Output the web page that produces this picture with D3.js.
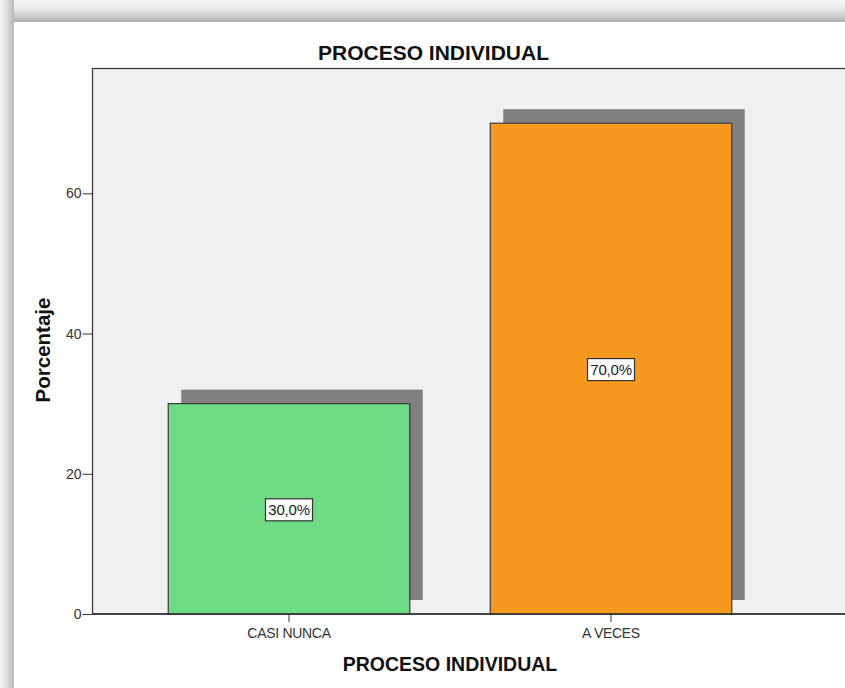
<!DOCTYPE html>
<html>
<head>
<meta charset="utf-8">
<script src="https://cdn.jsdelivr.net/npm/d3@7/dist/d3.min.js"></script>
<style>
  html, body { margin: 0; padding: 0; background: #ffffff; }
  svg { display: block; font-family: "Liberation Sans", Arial, sans-serif; }
</style>
</head>
<body>
<svg id="chart" width="845" height="688"></svg>
<script>
// Frequencies of "PROCESO INDIVIDUAL" (percent of respondents)
const categories = ["CASI NUNCA", "A VECES"];
const percentages = [30.0, 70.0];
const barColors = ["#6fdc85", "#f8991f"];
const yTicks = [0, 20, 40, 60];
const chartTitle = "PROCESO INDIVIDUAL";
const xTitle = "PROCESO INDIVIDUAL";
const yTitle = "Porcentaje";

const svg = d3.select("#chart");
const W = 845, H = 688;

// Panel frame with soft shadow on top and left
const defs = svg.append("defs");
const gTop = defs.append("linearGradient").attr("id", "shadeTop")
  .attr("x1", 0).attr("y1", 0).attr("x2", 0).attr("y2", 1);
gTop.append("stop").attr("offset", "0%").attr("stop-color", "#f7f7f7");
gTop.append("stop").attr("offset", "45%").attr("stop-color", "#e6e6e6");
gTop.append("stop").attr("offset", "100%").attr("stop-color", "#b2b2b2");
const gLeft = defs.append("linearGradient").attr("id", "shadeLeft")
  .attr("x1", 0).attr("y1", 0).attr("x2", 1).attr("y2", 0);
gLeft.append("stop").attr("offset", "0%").attr("stop-color", "#f7f7f7");
gLeft.append("stop").attr("offset", "45%").attr("stop-color", "#e0e0e0");
gLeft.append("stop").attr("offset", "100%").attr("stop-color", "#b8b8b8");

svg.append("rect").attr("x", 0).attr("y", 0).attr("width", W).attr("height", 22)
  .attr("fill", "url(#shadeTop)");
svg.append("rect").attr("x", 0).attr("y", 0).attr("width", 14).attr("height", H)
  .attr("fill", "url(#shadeLeft)");

// Plot area
const plot = { left: 92.5, top: 68.5, right: 870, bottom: 614 };

const y = d3.scaleLinear().domain([0, 77.8]).range([plot.bottom, plot.top]);
const x = d3.scaleBand().domain(categories).range([128, 772])
  .paddingInner(0.25).paddingOuter(0.125);

svg.append("rect")
  .attr("x", plot.left).attr("y", plot.top)
  .attr("width", plot.right - plot.left).attr("height", plot.bottom - plot.top)
  .attr("fill", "#f0f0f0").attr("stroke", "#3a3a3a").attr("stroke-width", 1.3);

const data = categories.map((c, i) => ({ cat: c, value: percentages[i], color: barColors[i] }));

// Drop shadows behind the bars
const shadowDx = 13, shadowDy = -14;
svg.append("g").selectAll("rect").data(data).join("rect")
  .attr("x", d => x(d.cat) + shadowDx)
  .attr("y", d => y(d.value) + shadowDy)
  .attr("width", x.bandwidth())
  .attr("height", d => y(0) - y(d.value))
  .attr("fill", "#808080");

// Bars
svg.append("g").selectAll("rect").data(data).join("rect")
  .attr("x", d => x(d.cat))
  .attr("y", d => y(d.value))
  .attr("width", x.bandwidth())
  .attr("height", d => y(0) - y(d.value))
  .attr("fill", d => d.color)
  .attr("stroke", "#3a3a3a").attr("stroke-width", 1.2);

// Value labels in white boxes
const fmt = v => v.toFixed(1).replace(".", ",") + "%";
const lbl = svg.append("g").selectAll("g").data(data).join("g")
  .attr("transform", d => `translate(${x(d.cat) + x.bandwidth() / 2},${(y(d.value) + y(0)) / 2 + 1})`);
lbl.append("rect")
  .attr("x", -23.5).attr("y", -11).attr("width", 47).attr("height", 22)
  .attr("fill", "#ffffff").attr("stroke", "#333333").attr("stroke-width", 1.2);
lbl.append("text").text(d => fmt(d.value))
  .attr("text-anchor", "middle").attr("dy", "0.36em")
  .attr("font-size", 15).attr("letter-spacing", -0.2).attr("fill", "#1a1a1a");

// Axes
const yAxis = d3.axisLeft(y).tickValues(yTicks).tickSize(10).tickPadding(1).tickFormat(d3.format("d"));
const gy = svg.append("g").attr("transform", `translate(${plot.left},0)`).call(yAxis);
gy.select(".domain").remove();
gy.selectAll(".tick line").attr("stroke", "#333");
gy.selectAll(".tick text").attr("font-size", 14).attr("fill", "#333")
  .attr("font-family", "Liberation Sans, Arial, sans-serif");

const xAxis = d3.axisBottom(x).tickSize(8).tickPadding(6);
const gx = svg.append("g").attr("transform", `translate(0,${plot.bottom})`).call(xAxis);
gx.select(".domain").remove();
gx.selectAll(".tick line").attr("stroke", "#333");
gx.selectAll(".tick text").attr("font-size", 14).attr("fill", "#333")
  .attr("font-family", "Liberation Sans, Arial, sans-serif")
  .attr("letter-spacing", -0.3);

svg.append("line").attr("x1", plot.left).attr("x2", plot.right)
  .attr("y1", plot.bottom).attr("y2", plot.bottom)
  .attr("stroke", "#333").attr("stroke-width", 1.3);

// Titles
svg.append("text").text(chartTitle)
  .attr("x", 433.5).attr("y", 60).attr("text-anchor", "middle")
  .attr("font-size", 21).attr("font-weight", "bold").attr("fill", "#111");
svg.append("text").text(xTitle)
  .attr("x", 450).attr("y", 671).attr("text-anchor", "middle")
  .attr("font-size", 19.5).attr("font-weight", "bold").attr("fill", "#111");
svg.append("text").text(yTitle)
  .attr("transform", "translate(50,350) rotate(-90)").attr("text-anchor", "middle")
  .attr("font-size", 20.5).attr("font-weight", "bold").attr("fill", "#111");
</script>
</body>
</html>
